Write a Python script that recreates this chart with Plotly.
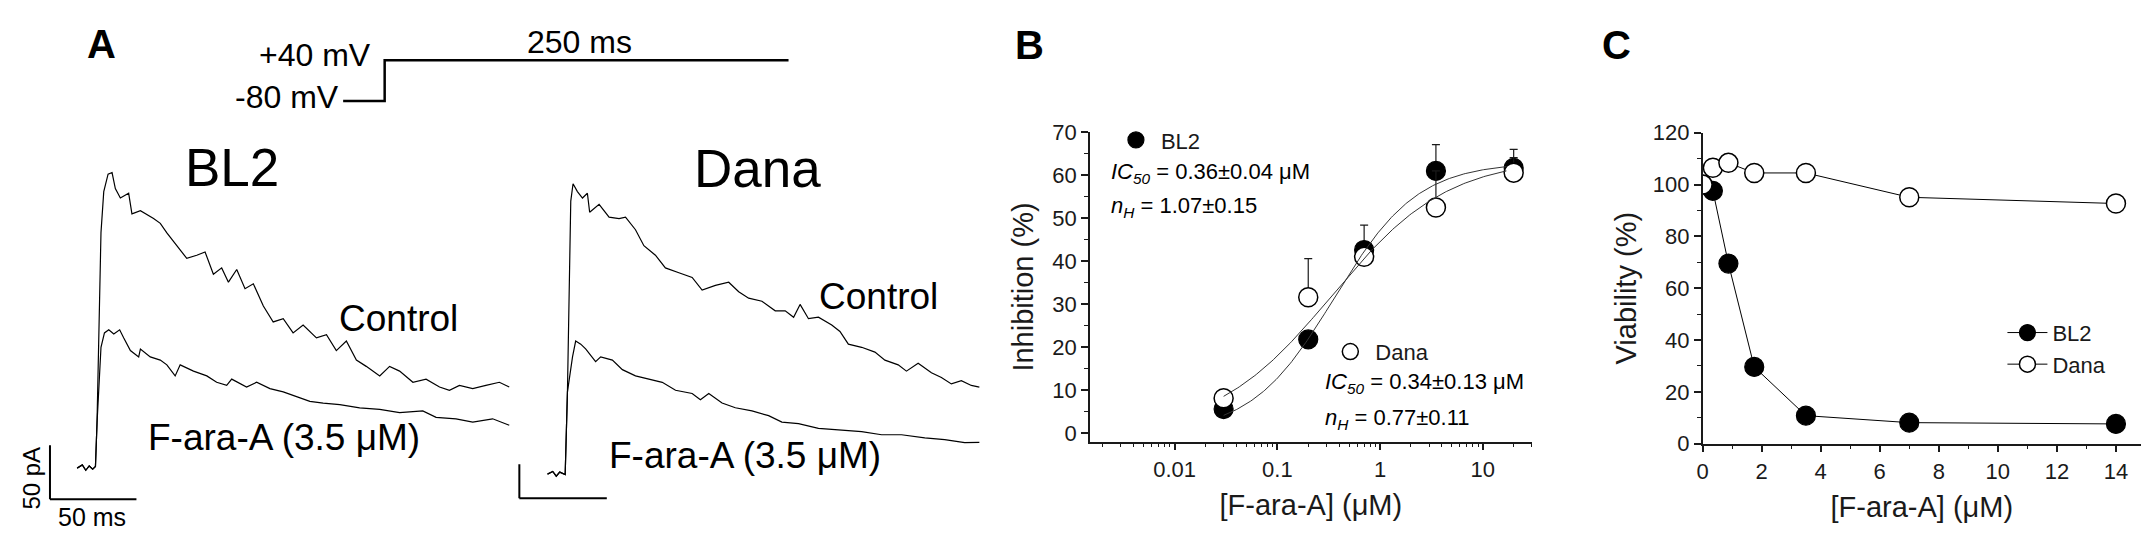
import numpy as np
import plotly.graph_objects as go

W, H = 2149, 537
FONT = "Arial, Liberation Sans, sans-serif"
INK = "#1a1a1a"

# ---------------- Panel A : whole-cell currents (ms, pA) ----------------
bl2_ctrl_t = [0, 3, 5, 7, 9, 10.6, 11.5, 12.5, 13.8, 15.4, 17.9, 20.2, 22.1, 25.0, 29.8, 31.7, 36.6,
              44.2, 48.1, 51.9, 57.7, 63.4, 69.2, 74.0, 78.8, 83.6, 87.5, 92.3, 97.1, 101.9, 107.7,
              113.4, 119.2, 124.9, 130.7, 138.4, 144.2, 149.9, 155.7, 161.5, 167.2, 175.0, 180.7,
              186.5, 194.2, 201.8, 209.6, 215.3, 221.1, 228.8, 236.4, 244.2, 249.9]
bl2_ctrl_i = [0, 3, -2, 2, -1, 1.5, 41.2, 129.6, 217.8, 255.7, 271.9, 273.4, 258.6, 249.8, 254.2, 235.2,
              238.1, 230.8, 226.4, 217.5, 205.7, 194.0, 196.9, 199.9, 179.3, 185.2, 172.0, 183.7, 166.0,
              170.5, 149.9, 135.2, 138.2, 125.0, 132.3, 120.5, 123.5, 108.7, 117.5, 99.9, 94.1, 85.3,
              94.1, 89.7, 79.4, 82.3, 75.0, 72.0, 76.5, 73.5, 76.5, 79.4, 75.0]

bl2_drug_t = [0, 3, 5, 7, 9, 10.6, 11.5, 13.8, 15.8, 18.3, 21.2, 24.6, 26.9, 30.8, 35.6, 36.6, 42.3,
              48.1, 51.9, 56.7, 59.6, 67.3, 75.0, 80.7, 86.5, 89.4, 98.0, 103.8, 111.5, 119.2, 126.9,
              134.6, 142.3, 151.9, 163.4, 175.0, 186.5, 199.9, 207.6, 219.1, 228.8, 240.3, 249.9]
bl2_drug_i = [0, 3, -2, 2, -1, 1.5, 41.2, 111.7, 125.0, 127.9, 124.1, 127.9, 120.5, 108.7, 102.9, 110.2,
              102.9, 99.9, 95.5, 85.3, 95.5, 89.7, 85.3, 79.4, 76.5, 82.3, 75.0, 79.4, 73.5, 70.5, 66.1,
              61.7, 60.2, 58.8, 55.8, 54.4, 51.4, 52.9, 47.0, 45.6, 42.6, 45.6, 39.7]

dana_ctrl_t = [0, 3, 5, 7, 10.1, 11.4, 13.3, 14.6, 17.1, 20.0, 22.8, 24.1, 29.5, 35.2, 40.9, 44.6, 50.3,
               55.1, 61.7, 67.4, 75.1, 82.7, 88.4, 96.0, 103.6, 109.3, 115.0, 122.6, 130.2, 135.9,
               140.7, 144.4, 149.2, 154.9, 162.5, 167.2, 172.0, 179.6, 187.2, 192.9, 200.5, 205.2,
               211.9, 219.5, 225.2, 230.9, 236.6, 242.3, 246.9]
dana_ctrl_i = [0, 4, -3, 3, -0.6, 120.9, 401.0, 426.6, 415.0, 405.6, 412.6, 384.6, 396.4, 377.6, 375.4,
               377.6, 359.0, 335.6, 321.6, 302.9, 295.9, 288.9, 270.3, 277.3, 281.9, 267.9, 258.5,
               253.9, 239.9, 239.9, 230.5, 249.3, 228.3, 230.5, 218.9, 209.5, 190.9, 186.3, 179.3,
               167.5, 160.5, 151.3, 162.9, 148.9, 141.9, 132.5, 137.3, 130.3, 127.9]

dana_drug_t = [0, 3, 5, 7, 10.1, 11.4, 14.3, 16.1, 19.0, 21.8, 27.5, 30.4, 37.1, 42.8, 50.3, 58.0, 65.6,
               73.2, 82.7, 87.4, 92.2, 99.8, 107.4, 116.9, 126.4, 134.0, 143.5, 154.9, 166.3, 179.6,
               191.0, 202.4, 215.7, 227.1, 238.5, 246.9]
dana_drug_i = [0, 4, -3, 3, -0.6, 120.9, 172.3, 195.5, 190.9, 183.9, 165.3, 172.3, 167.5, 153.5, 144.3,
               139.5, 134.9, 123.2, 118.5, 109.2, 118.5, 104.5, 97.5, 92.9, 85.9, 76.5, 74.2, 67.2,
               64.8, 62.5, 57.8, 57.8, 53.2, 50.8, 46.2, 46.6]

# voltage protocol (ms, mV)
prot_t = [-25.7, 0, 0, 250]
prot_v = [-80, -80, 40, 40]

# ---------------- Panel B : concentration-inhibition ----------------
conc_b = [0.03, 0.2, 0.7, 3.5, 20]
inh_bl2 = [5.6, 21.8, 42.6, 61.0, 61.7]
inh_bl2_err = [0.5, 1.0, 5.8, 6.1, 4.3]
inh_dana = [8.1, 31.6, 41.0, 52.5, 60.6]
inh_dana_err = [1.3, 9.0, 1.0, 8.5, 3.5]
bl2_ic50, bl2_nh, bl2_max = 0.36, 1.07, 63.0
dana_ic50, dana_nh, dana_max = 0.34, 0.77, 64.0
fit_lo, fit_hi = 0.03, 17.0
b_xticks = [0.01, 0.1, 1, 10]
b_xticktext = ["0.01", "0.1", "1", "10"]

# ---------------- Panel C : viability ----------------
conc_c = [0, 0.35, 0.875, 1.75, 3.5, 7, 14]
via_bl2 = [100, 97.6, 69.5, 29.6, 10.8, 8.1, 7.6]
via_dana = [100, 106.5, 108.4, 104.5, 104.5, 95.1, 92.7]


def xdom(a, b):
    return [a / W, b / W]


def ydom(top, bot):
    return [1 - bot / H, 1 - top / H]


def xr(p0, p1, origin, scale):
    return [(p0 - origin) / scale, (p1 - origin) / scale]


def yr(top, bot, origin, scale):
    return [(origin - bot) / scale, (origin - top) / scale]


def hill(x, ic50, nh, top):
    x = np.asarray(x)
    return top / (1 + (ic50 / x) ** nh)


fig = go.Figure()

# ---- Panel A traces
for t, i, ax in [(bl2_ctrl_t, bl2_ctrl_i, 1), (bl2_drug_t, bl2_drug_i, 1),
                 (dana_ctrl_t, dana_ctrl_i, 2), (dana_drug_t, dana_drug_i, 2)]:
    fig.add_trace(go.Scatter(x=t, y=i, mode="lines", line=dict(color="black", width=1.2),
                             xaxis="x" if ax == 1 else "x2", yaxis="y" if ax == 1 else "y2",
                             showlegend=False, hoverinfo="skip"))
fig.add_trace(go.Scatter(x=prot_t, y=prot_v, mode="lines", line=dict(color="black", width=2.5),
                         xaxis="x3", yaxis="y3", showlegend=False, hoverinfo="skip"))

# ---- Panel B
fig.add_trace(go.Scatter(x=conc_b, y=inh_bl2, mode="markers", name="BL2",
                         marker=dict(size=19, color="black", line=dict(color="black", width=1.2)),
                         error_y=dict(type="data", symmetric=False, array=inh_bl2_err,
                                      arrayminus=[0] * len(inh_bl2_err), color=INK, thickness=1.2, width=4),
                         xaxis="x4", yaxis="y4", legend="legend2"))
fig.add_trace(go.Scatter(x=conc_b, y=inh_dana, mode="markers", name="Dana",
                         marker=dict(size=19, color="white", line=dict(color="black", width=1.5)),
                         error_y=dict(type="data", symmetric=False, array=inh_dana_err,
                                      arrayminus=[0] * len(inh_dana_err), color=INK, thickness=1.2, width=4),
                         xaxis="x4", yaxis="y4", legend="legend3"))
xf = np.logspace(np.log10(fit_lo), np.log10(fit_hi), 200)
for ic, nh, top in [(bl2_ic50, bl2_nh, bl2_max), (dana_ic50, dana_nh, dana_max)]:
    fig.add_trace(go.Scatter(x=xf, y=hill(xf, ic, nh, top), mode="lines",
                             line=dict(color="#333", width=1), xaxis="x4", yaxis="y4",
                             showlegend=False, hoverinfo="skip"))

# ---- Panel C
fig.add_trace(go.Scatter(x=conc_c, y=via_bl2, mode="lines+markers", name="BL2",
                         line=dict(color="black", width=1),
                         marker=dict(size=19, color="black", line=dict(color="black", width=1.2)),
                         xaxis="x5", yaxis="y5", legend="legend"))
fig.add_trace(go.Scatter(x=conc_c, y=via_dana, mode="lines+markers", name="Dana",
                         line=dict(color="black", width=1),
                         marker=dict(size=19, color="white", line=dict(color="black", width=1.5)),
                         xaxis="x5", yaxis="y5", legend="legend"))

hidden = dict(visible=False, showgrid=False, zeroline=False)
axstyle = dict(showline=True, linecolor=INK, linewidth=1.5, ticks="outside", ticklen=7,
               tickwidth=1.5, tickcolor=INK, showgrid=False, zeroline=False, mirror=False,
               tickfont=dict(family=FONT, size=22, color=INK))

minor_b = [m * 10.0 ** e for e in range(-3, 2) for m in range(2, 10)]
minor_b = [v for v in minor_b if 0.0015 <= v <= 30]

fig.update_layout(
    width=W, height=H, margin=dict(l=0, r=0, t=0, b=0),
    paper_bgcolor="white", plot_bgcolor="rgba(0,0,0,0)",
    font=dict(family=FONT, color=INK),
    xaxis=dict(domain=xdom(20, 502), range=xr(20, 502, 63.3, 1.734), **hidden),
    yaxis=dict(domain=ydom(120, 525), range=yr(120, 525, 470, 1.134), **hidden),
    xaxis2=dict(domain=xdom(503, 990), range=xr(503, 990, 535, 1.754), anchor="y2", **hidden),
    yaxis2=dict(domain=ydom(120, 525), range=yr(120, 525, 476.3, 0.714), anchor="x2", **hidden),
    xaxis3=dict(domain=xdom(300, 800), range=xr(300, 800, 371.7, 1.62), anchor="y3", **hidden),
    yaxis3=dict(domain=ydom(10, 100), range=[-80 + (85 - 100) / 0.356, -80 + (85 - 10) / 0.356],
                anchor="x3", **hidden),
    xaxis4=dict(domain=xdom(1079, 1522), type="log", range=[np.log10(0.0015), np.log10(30)],
                anchor="y4", tickvals=b_xticks, ticktext=b_xticktext,
                minor=dict(tickvals=minor_b, ticks="outside", ticklen=4, tickcolor=INK, tickwidth=1.2),
                title=dict(text="[F-ara-A] (μM)", font=dict(family=FONT, size=29, color=INK), standoff=14),
                **axstyle),
    yaxis4=dict(domain=ydom(117.7, 442.3), range=[-2, 70], anchor="x4", tick0=0, dtick=10,
                minor=dict(dtick=5, ticks="outside", ticklen=4, tickcolor=INK, tickwidth=1.2),
                title=dict(text="Inhibition (%)", font=dict(family=FONT, size=29, color=INK), standoff=10),
                **axstyle),
    xaxis5=dict(domain=xdom(1693.3, 2133), range=[0, 14.85], anchor="y5", tick0=0, dtick=2,
                minor=dict(dtick=1, ticks="outside", ticklen=4, tickcolor=INK, tickwidth=1.2),
                title=dict(text="[F-ara-A] (μM)", font=dict(family=FONT, size=29, color=INK), standoff=14),
                **axstyle),
    yaxis5=dict(domain=ydom(118.3, 444.3), range=[0, 120], anchor="x5", tick0=0, dtick=20,
                minor=dict(dtick=10, ticks="outside", ticklen=4, tickcolor=INK, tickwidth=1.2),
                title=dict(text="Viability (%)", font=dict(family=FONT, size=29, color=INK), standoff=8),
                **axstyle),
    legend=dict(x=1994 / W, y=1 - 306 / H, xanchor="left", yanchor="top", bgcolor="rgba(0,0,0,0)",
                font=dict(family=FONT, size=22, color=INK), tracegroupgap=0, itemwidth=40),
    legend2=dict(x=1100 / W, y=1 - 126 / H, xanchor="left", yanchor="middle", bgcolor="rgba(0,0,0,0)",
                 font=dict(family=FONT, size=22, color=INK), itemwidth=40),
    legend3=dict(x=1315 / W, y=1 - 348 / H, xanchor="left", yanchor="middle", bgcolor="rgba(0,0,0,0)",
                 font=dict(family=FONT, size=22, color=INK), itemwidth=40),
)

# scale bars (50 ms / 50 pA) in data units
sb = [(-15.7, -28.8, "x", "y"), (-16.1, -35.6, "x2", "y2")]
for t0, i0, xa, ya in sb:
    fig.add_shape(type="line", x0=t0, x1=t0 + 50, y0=i0, y1=i0, xref=xa, yref=ya,
                  line=dict(color="black", width=2))
    fig.add_shape(type="line", x0=t0, x1=t0, y0=i0, y1=i0 + 50, xref=xa, yref=ya,
                  line=dict(color="black", width=2))


def ann(text, px, py, size, xanchor="center", bold=False, angle=0):
    fig.add_annotation(text=f"<b>{text}</b>" if bold else text, x=px / W, y=1 - py / H,
                       xref="paper", yref="paper", xanchor=xanchor, yanchor="middle",
                       showarrow=False, textangle=angle,
                       font=dict(family=FONT, size=size, color="black"))


ann("A", 88, 25, 40, bold=True)
ann("B", 1018, 26, 40, bold=True)
ann("C", 1607, 26, 40, bold=True)
ann("+40 mV", 360, 37, 32, xanchor="right")
ann("-80 mV", 328, 81, 32, xanchor="right")
ann("250 ms", 567, 23, 32)
ann("BL2", 219, 155, 53)
ann("Dana", 746, 156, 53)
ann("Control", 386, 313, 37)
ann("F-ara-A (3.5 μM)", 271, 438, 37)
ann("Control", 867, 290, 37)
ann("F-ara-A (3.5 μM)", 733, 457, 37)
ann("50 pA", 18, 480, 24, angle=-90)
ann("50 ms", 78, 521, 25)
ann("<i>IC</i><sub><i>50</i></sub> = 0.36±0.04 μM", 1098, 160, 22, xanchor="left")
ann("<i>n</i><sub><i>H</i></sub> = 1.07±0.15", 1098, 196, 22, xanchor="left")
ann("<i>IC</i><sub><i>50</i></sub> = 0.34±0.13 μM", 1313, 381, 22, xanchor="left")
ann("<i>n</i><sub><i>H</i></sub> = 0.77±0.11", 1313, 418, 22, xanchor="left")

fig.write_html("out.html")
